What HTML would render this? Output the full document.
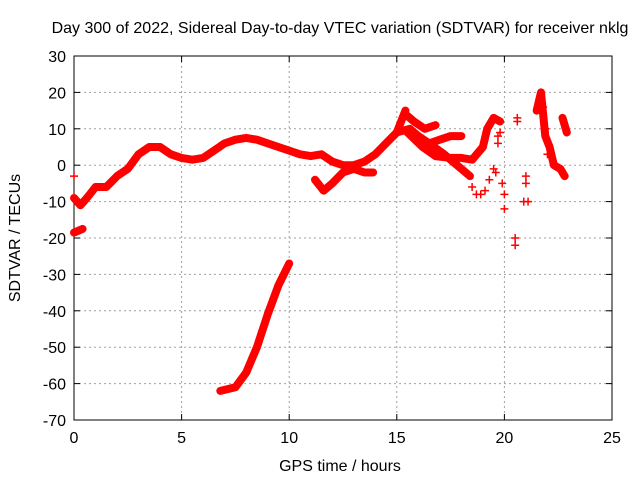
<!DOCTYPE html>
<html><head><meta charset="utf-8"><style>
body{margin:0;background:#fff}
svg{display:block;font-family:"Liberation Sans",sans-serif}
</style></head><body>
<svg id="chart" width="640" height="480" viewBox="0 0 640 480" xmlns="http://www.w3.org/2000/svg">
<rect width="640" height="480" fill="#fff"/>
<text x="340" y="33" font-size="16" text-anchor="middle">Day 300 of 2022, Sidereal Day-to-day VTEC variation (SDTVAR) for receiver nklg</text>
<text x="340" y="471" font-size="16" text-anchor="middle">GPS time / hours</text>
<text transform="translate(20,238) rotate(-90)" font-size="16" text-anchor="middle">SDTVAR / TECUs</text>
<g id="grid"></g><g id="axes"></g><g id="marks"></g>
</svg>
<script>
const xTicks=[0,5,10,15,20,25];
const yTicks=[30,20,10,0,-10,-20,-30,-40,-50,-60,-70];
// continuous dense tracks (hours, TECU)
const trackMainT=[0,0.3,0.6,1,1.5,2,2.5,3,3.5,4,4.5,5,5.5,6,6.5,7,7.5,8,8.5,9,9.5,10,10.5,11,11.5,12,12.5,13,13.5,14,14.5,15,15.4];
const trackMainV=[-9,-11,-9,-6,-6,-3,-1,3,5,5,3,2,1.5,2,4,6,7,7.5,7,6,5,4,3,2.5,3,1,0,0,1,3,6,9,15];
const trackDropT=[6.8,7.5,8,8.5,9,9.5,10];
const trackDropV=[-62,-61,-57,-50,-41,-33,-27];
const trackDipT=[11.2,11.6,12,12.5,13,13.5,13.9];
const trackDipV=[-4,-7,-5,-2,-1,-2,-2];
const trackUpperT=[15.4,15.8,16.3,16.8];
const trackUpperV=[14,12,10,11];
const trackMidT=[15,15.6,16,16.5,17,17.5,18];
const trackMidV=[9,10,8,6,7,8,8];
const trackLowT=[15.5,16.2,16.8,17.5,18,18.5,19,19.2,19.5,19.8];
const trackLowV=[9,5,2.5,2,2,1.5,5,10,13,12];
const trackFallT=[16.5,17.2,17.8,18.4];
const trackFallV=[6,3,0,-3];
const trackStartT=[0,0.4];
const trackStartV=[-18.5,-17.5];
const trackSpikeT=[21.5,21.7,21.8,21.9,22.1,22.3,22.6,22.8];
const trackSpikeV=[15,20,14,8,5,0,-1,-3];
const trackRightT=[22.7,22.9];
const trackRightV=[13,9];
// scattered individual points
const scatterT=[0,18.5,18.7,18.9,19.1,19.3,19.6,19.7,19.8,19.9,20,20,20.5,20.5,20.6,20.6,20.9,21,21.1,21.0,21.8,21.9,22,19.5,19.7];
const scatterV=[-3,-6,-8,-8,-7,-4,-2,6,9,-5,-12,-8,-20,-22,12,13,-10,-5,-10,-3,16,10,3,-1,8];

const X0=74,X1=612,Y0=56,Y1=420;
const sx=t=>X0+(t-0)/25*(X1-X0);
const sy=v=>Y0+(30-v)/100*(Y1-Y0);
const NS='http://www.w3.org/2000/svg';
const grid=document.getElementById('grid'),axes=document.getElementById('axes'),marks=document.getElementById('marks');
function mk(tag,attrs,parent){const e=document.createElementNS(NS,tag);for(const k in attrs)e.setAttribute(k,attrs[k]);parent.appendChild(e);return e;}
xTicks.forEach(t=>{
  const x=sx(t);
  if(t>0&&t<25){const g=mk('line',{x1:x,x2:x,y1:Y0,y2:Y1,stroke:'#a0a0a0','stroke-dasharray':'2,3'},grid);
  
  }
  mk('line',{x1:x,x2:x,y1:Y1,y2:Y1-6,stroke:'#000'},axes);
  mk('line',{x1:x,x2:x,y1:Y0,y2:Y0+6,stroke:'#000'},axes);
  const l=mk('text',{x:x,y:Y1+23,'font-size':16,'text-anchor':'middle'},axes);l.textContent=t;
  
  
});
yTicks.forEach(v=>{
  const y=sy(v);
  if(v<30&&v>-70){const g=mk('line',{x1:X0,x2:X1,y1:y,y2:y,stroke:'#a0a0a0','stroke-dasharray':'2,3'},grid);
  
  }
  mk('line',{x1:X0,x2:X0+6,y1:y,y2:y,stroke:'#000'},axes);
  mk('line',{x1:X1,x2:X1-6,y1:y,y2:y,stroke:'#000'},axes);
  const l=mk('text',{x:X0-8,y:y+6,'font-size':16,'text-anchor':'end'},axes);l.textContent=v;
  
  
});
const frame=mk('rect',{x:X0,y:Y0,width:X1-X0,height:Y1-Y0,fill:'none',stroke:'#000'},axes);


const tracks=[[trackMainT,trackMainV],[trackDropT,trackDropV],[trackDipT,trackDipV],[trackUpperT,trackUpperV],[trackMidT,trackMidV],[trackLowT,trackLowV],[trackFallT,trackFallV],[trackStartT,trackStartV],[trackSpikeT,trackSpikeV],[trackRightT,trackRightV]];
tracks.forEach(([T,V])=>{
  const pts=T.map((t,i)=>sx(t)+','+sy(V[i])).join(' ');
  const p=mk('polyline',{points:pts,fill:'none',stroke:'#ff0000','stroke-width':8,'stroke-linejoin':'round','stroke-linecap':'round'},marks);
  
  
});
scatterT.forEach((t,i)=>{
  const x=sx(t),y=sy(scatterV[i]);
  const p=mk('path',{d:`M${x-4},${y}H${x+4}M${x},${y-4}V${y+4}`,stroke:'#ff0000','stroke-width':1.5},marks);
  
  
});
</script>
</body></html>
